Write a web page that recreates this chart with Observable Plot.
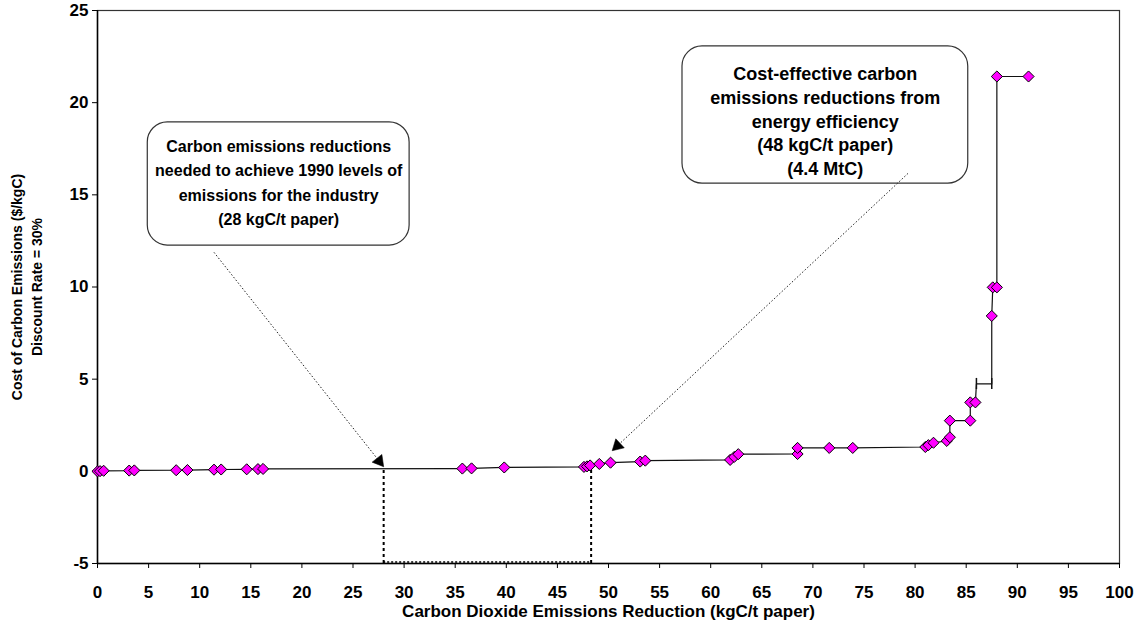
<!DOCTYPE html>
<html><head><meta charset="utf-8">
<script src="https://cdn.jsdelivr.net/npm/d3@7"></script>
<script src="https://cdn.jsdelivr.net/npm/@observablehq/plot@0.6"></script>
<style>body{margin:0;background:#fff}</style>
</head><body><div id="chart"></div>
<script>
// Measures in supply-curve order: cumulative reduction (kgC/t paper) and cost ($/kgC)
const reductionX = [0.0, 0.25, 0.6, 3.1, 3.6, 7.7, 8.8, 11.4, 12.1, 14.6, 15.7, 16.2,
  35.7, 36.6, 39.8, 47.6, 47.9, 48.2, 49.1, 50.2, 53.1, 53.6, 61.9, 62.3, 62.7,
  68.5, 68.5, 71.6, 73.9, 81.0, 81.3, 81.8, 83.1, 83.4, 83.4, 85.4, 85.4, 85.9,
  87.5, 87.6, 88.0, 88.0, 91.1];
const costY = [0.00, 0.01, 0.03, 0.04, 0.05, 0.06, 0.07, 0.09, 0.10, 0.11, 0.12, 0.13,
  0.15, 0.16, 0.21, 0.24, 0.27, 0.32, 0.40, 0.47, 0.53, 0.58, 0.62, 0.78, 0.93,
  0.94, 1.27, 1.27, 1.27, 1.32, 1.42, 1.55, 1.65, 1.85, 2.75, 2.75, 3.74, 3.74,
  8.43, 9.98, 9.98, 21.42, 21.42];
// horizontal bar segment (with end caps) between the 3.7 and 8.4 steps
const barX = [86.0, 87.5];
const barY = 4.74;
// target reductions: 1990 level (28) and cost-effective potential (48.3)
const targetX = [28.0, 48.3];
const targetTopY = [0.17, 0.3];
const xTicks = d3.range(0, 101, 5);
const yTicks = d3.range(-5, 26, 5);

const notes = [
  {text: "Carbon emissions reductions\nneeded to achieve 1990 levels of\nemissions for the industry\n(28 kgC/t paper)",
   x1: 4.92, x2: 30.54, y1: 12.25, y2: 18.93, tx: 17.73, ty: 15.78,
   ax1: 11.4, ay1: 11.88, ax2: 28.0, ay2: 0.25},
  {text: "Cost-effective carbon\nemissions reductions from\nenergy efficiency\n(48 kgC/t paper)\n(4.4 MtC)",
   x1: 57.24, x2: 85.2, y1: 15.61, y2: 23.05, tx: 71.2, ty: 19.06,
   ax1: 79.3, ay1: 16.16, ax2: 50.36, ay2: 1.12}
];
const noteFont = [{size: 16, lh: 1.53}, {size: 18, lh: 1.32}];

const W = 1141, H = 629, mL = 97, mR = 22, mT = 10, mB = 66;
const pxX = (W - mL - mR) / 100, pxY = (H - mT - mB) / 30;

const points = reductionX.map((x, i) => ({x, y: costY[i]}));
const breakIdx = points.findIndex(p => p.x === 85.9);
const path = [...points.slice(0, breakIdx + 1),
  ...barX.map(x => ({x, y: barY})),
  ...points.slice(breakIdx + 1)];

const font = "'Liberation Sans', Arial, sans-serif";

// arrowheads
const headR = 4.6;
const tipDist = 2 * Math.sqrt(headR * headR * Math.PI / (3 * Math.sqrt(3)));
const heads = notes.map(n => {
  const dx = (n.ax2 - n.ax1) * pxX, dy = -(n.ay2 - n.ay1) * pxY;
  const len = Math.hypot(dx, dy);
  const ux = dx / len, uy = dy / len;
  return {n, rot: Math.atan2(dx, -dy) * 180 / Math.PI, ox: -ux * tipDist, oy: -uy * tipDist, ux, uy};
});

const chart = Plot.plot({
  width: W, height: H,
  marginLeft: mL, marginRight: mR, marginTop: mT, marginBottom: mB,
  style: {fontFamily: font, background: "#fff", color: "#000", fontSize: "17px", fontWeight: "bold"},
  x: {domain: [0, 100], ticks: xTicks, label: null},
  y: {domain: [-5, 25], ticks: yTicks, label: null},
  marks: [
    Plot.frame({stroke: "#333", strokeWidth: 1.2}),
    Plot.axisX({ticks: xTicks, tickSize: 5, tickPadding: 17, fontSize: 17, fontWeight: "bold", tickFormat: d => d, label: null}),
    Plot.axisY({ticks: yTicks, tickSize: 5, tickPadding: 4, fontSize: 17, fontWeight: "bold", tickFormat: d => d, label: null}),
    Plot.ruleX([0], {stroke: "#000", strokeWidth: 1.5}),
    Plot.ruleY([-5], {stroke: "#000", strokeWidth: 1.5}),
    Plot.text(["Carbon Dioxide Emissions Reduction (kgC/t paper)"], {frameAnchor: "bottom", dy: 53, fontSize: 17, fontWeight: "bold", fill: "#000"}),
    Plot.text(["Cost of Carbon Emissions ($/kgC)\nDiscount Rate = 30%"], {frameAnchor: "left", dx: -72, rotate: -90, textAnchor: "middle", fontSize: 14, fontWeight: "bold", lineHeight: 1.4, fill: "#000"}),
    // target dashed lines
    Plot.ruleX(targetX.map((x, i) => ({x, y1: -5, y2: targetTopY[i]})), {x: "x", y1: "y1", y2: "y2", stroke: "#000", strokeWidth: 2, strokeDasharray: "3,3"}),
    Plot.ruleY([{y: -5, x1: targetX[0], x2: targetX[1]}], {y: "y", x1: "x1", x2: "x2", dy: -1.5, stroke: "#000", strokeWidth: 1.5, strokeDasharray: "2,2"}),
    // callout boxes
    Plot.rect(notes, {x1: "x1", x2: "x2", y1: "y1", y2: "y2", rx: 20, fill: "#fff", stroke: "#333", strokeWidth: 1.2}),
    ...notes.map((n, i) => Plot.text([n], {x: "tx", y: "ty", text: "text", fontSize: noteFont[i].size, fontWeight: "bold", lineHeight: noteFont[i].lh, fill: "#000"})),
    Plot.link(heads, {x1: d => d.n.ax1, y1: d => d.n.ay1,
      x2: d => d.n.ax2 - d.ux * 9 / pxX, y2: d => d.n.ay2 + d.uy * 9 / pxY,
      stroke: "#222", strokeWidth: 1, strokeDasharray: "1.5,2"}),
    ...heads.map(h => Plot.dot([h], {x: d => d.n.ax2, y: d => d.n.ay2, symbol: "triangle", r: headR,
      rotate: h.rot, dx: h.ox, dy: h.oy, fill: "#000", stroke: "#000", strokeWidth: 0.5})),
    // supply curve
    Plot.line(path, {x: "x", y: "y", stroke: "#111", strokeWidth: 1.2, curve: "linear"}),
    Plot.ruleX(barX.map(x => ({x, y1: barY - 0.3, y2: barY + 0.3})), {x: "x", y1: "y1", y2: "y2", stroke: "#111", strokeWidth: 1.5}),
    Plot.dot(points, {x: "x", y: "y", symbol: "diamond2", r: 5, fill: "#ff00ff", stroke: "#000", strokeWidth: 1})
  ]
});
document.getElementById("chart").appendChild(chart);
</script>
</body></html>
